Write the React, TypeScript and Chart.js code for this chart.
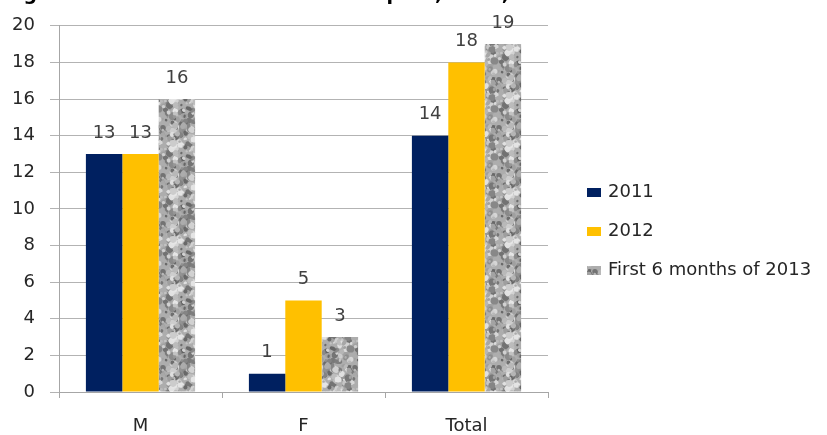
import React, { useEffect, useRef } from "react";
import { Chart, registerables } from "chart.js";

Chart.register(...registerables);

const categories = ["M", "F", "Total"];
const seriesNames = ["2011", "2012", "First 6 months of 2013"];
const values2011 = [13, 1, 14];
const values2012 = [13, 5, 18];
const values2013H1 = [16, 3, 19];
const yTicks = [0, 2, 4, 6, 8, 10, 12, 14, 16, 18, 20];
const titleText = "Figure 6: Number of Inmates in Hospital, 2011, 2012 and the first 6 months of 2013";

const FONT = "'DejaVu Sans', 'Open Sans', sans-serif";

function makeGranite(): CanvasPattern | string {
  const c = document.createElement("canvas");
  c.width = 48;
  c.height = 48;
  const ctx = c.getContext("2d");
  if (!ctx) return "#a6a6a6";
  ctx.fillStyle = "#adadad";
  ctx.fillRect(0, 0, 48, 48);
  let s = 12345;
  const rnd = () => {
    s = (s * 1103515245 + 12345) & 0x7fffffff;
    return s / 0x7fffffff;
  };
  for (let i = 0; i < 200; i++) {
    const x = rnd() * 48;
    const y = rnd() * 48;
    const r = 1 + rnd() * 2.6;
    const g = Math.floor(100 + rnd() * 130);
    ctx.fillStyle = `rgb(${g},${g},${g})`;
    for (const dx of [-48, 0, 48]) {
      for (const dy of [-48, 0, 48]) {
        ctx.beginPath();
        ctx.ellipse(x + dx, y + dy, r, r * (0.6 + rnd() * 0.6), rnd() * 3, 0, Math.PI * 2);
        ctx.fill();
      }
    }
  }
  const p = ctx.createPattern(c, "repeat");
  return p || "#a6a6a6";
}

export default function App() {
  const ref = useRef<HTMLCanvasElement | null>(null);

  useEffect(() => {
    if (!ref.current) return;
    const granite = makeGranite();
    const colors: any[] = ["#002060", "#FFC000", granite];

    const labelPlugin = {
      id: "valueLabels",
      afterDatasetsDraw(chart: any) {
        const ctx = chart.ctx;
        ctx.save();
        ctx.font = `18px ${FONT}`;
        ctx.fillStyle = "#404040";
        ctx.textAlign = "center";
        ctx.textBaseline = "middle";
        chart.data.datasets.forEach((ds: any, di: number) => {
          const meta = chart.getDatasetMeta(di);
          meta.data.forEach((el: any, i: number) => {
            ctx.fillText(String(ds.data[i]), el.x, el.y - 21);
          });
        });
        ctx.restore();
      },
    };

    const legendPlugin = {
      id: "customLegend",
      afterDraw(chart: any) {
        const ctx = chart.ctx;
        ctx.save();
        ctx.font = `18px ${FONT}`;
        ctx.textBaseline = "alphabetic";
        ctx.textAlign = "left";
        const baselines = [197, 236, 275];
        seriesNames.forEach((name, i) => {
          ctx.fillStyle = colors[i];
          ctx.fillRect(587, baselines[i] - 9, 14, 9);
          ctx.fillStyle = "#262626";
          ctx.fillText(name, 608, baselines[i]);
        });
        // title clipped by the top edge, as in the source image
        ctx.font = `bold 19px ${FONT}`;
        ctx.fillStyle = "#000";
        ctx.fillText(titleText, 4, 0);
        ctx.restore();
      },
    };

    const chart = new Chart(ref.current, {
      type: "bar",
      data: {
        labels: categories,
        datasets: [
          { label: seriesNames[0], data: values2011, backgroundColor: colors[0] },
          { label: seriesNames[1], data: values2012, backgroundColor: colors[1] },
          { label: seriesNames[2], data: values2013H1, backgroundColor: colors[2] },
        ],
      },
      options: {
        animation: false,
        responsive: false,
        devicePixelRatio: 1,
        layout: { padding: { left: 0, top: 23, right: 279, bottom: 0 } },
        plugins: {
          legend: { display: false },
          tooltip: { enabled: false },
          title: { display: false },
        },
        datasets: {
          bar: { categoryPercentage: 0.67, barPercentage: 1.0 },
        },
        scales: {
          x: {
            grid: {
              offset: true,
              drawOnChartArea: false,
              drawTicks: true,
              tickLength: 6,
              color: "#a6a6a6",
            },
            border: { display: true, color: "#a6a6a6" },
            ticks: {
              font: { family: FONT, size: 18 },
              color: "#262626",
              padding: 18,
            },
            afterFit(scale: any) {
              scale.height = 43;
            },
          },
          y: {
            min: 0,
            max: 20,
            afterBuildTicks(scale: any) {
              scale.ticks = yTicks.map((v) => ({ value: v }));
            },
            grid: {
              color: "#b3b3b3",
              tickLength: 9,
              drawTicks: true,
            },
            border: { display: true, color: "#a6a6a6" },
            ticks: {
              font: { family: FONT, size: 18 },
              color: "#262626",
              padding: 15,
            },
            afterFit(scale: any) {
              scale.width = 59;
            },
          },
        },
      },
      plugins: [labelPlugin, legendPlugin],
    });
    return () => chart.destroy();
  }, []);

  return (
    <div style={{ position: "fixed", left: 0, top: 0, width: 827, height: 435, background: "#fff" }}>
      <canvas ref={ref} width={827} height={435} style={{ width: 827, height: 435, display: "block" }} />
    </div>
  );
}
